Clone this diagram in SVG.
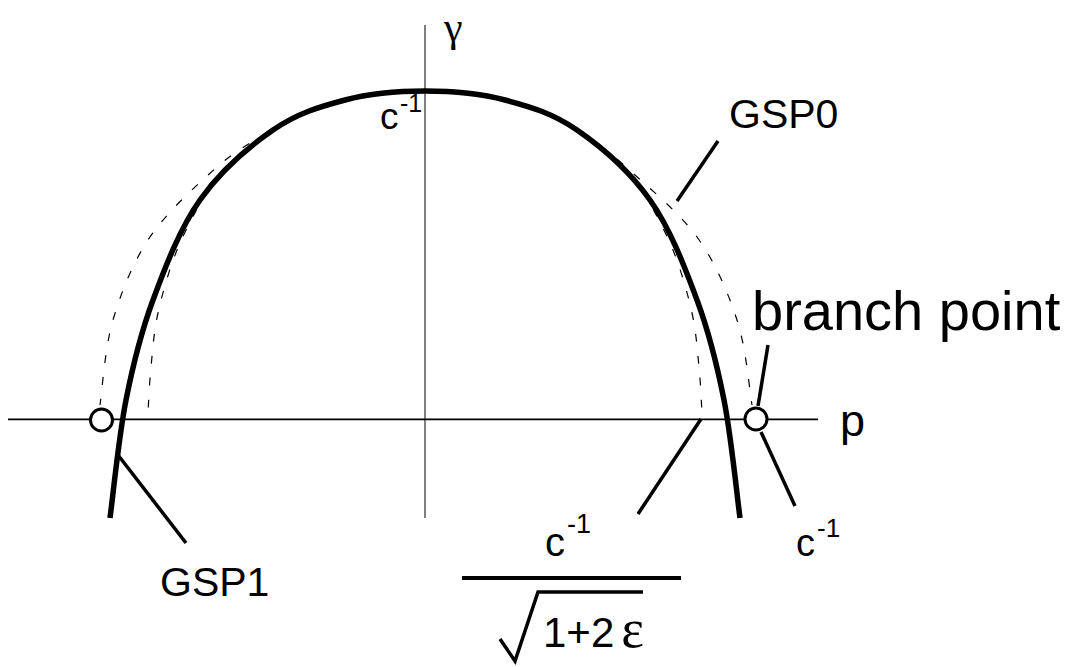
<svg xmlns="http://www.w3.org/2000/svg" width="1069" height="667" viewBox="0 0 1069 667">
<style>
.t{font-family:"Liberation Sans",Arial,sans-serif;fill:#000}
.s{font-family:"Liberation Serif","DejaVu Serif",serif;fill:#000}
.lead{stroke:#000;stroke-width:3.5;fill:none}
.dash{stroke:#000;stroke-width:1.2;fill:none;stroke-dasharray:8 14}
.solid{stroke:#000;stroke-width:5.5;fill:none}
.pt{stroke:#000;stroke-width:3;fill:#fff}
</style>
<rect width="1069" height="667" fill="#fff"/>
<g id="axes">
<line x1="425" y1="25" x2="425" y2="518" stroke="#555" stroke-width="1.5"/>
<line x1="8" y1="419.3" x2="818" y2="419.3" stroke="#000" stroke-width="1.7"/>
<text class="s" x="444" y="41" font-size="42">γ</text>
<text class="t" x="840" y="436" font-size="45">p</text>
</g>
<g id="dashed-curves">
<path class="dash" d="M268,132 C259.5,137.8 236.7,149.5 217,167 C197.3,184.5 167.3,211.5 150,237 C132.7,262.5 121.3,292 113,320 C104.7,348 102.2,390.8 100,405"/>
<path class="dash" d="M583,132 C590.2,137.8 607,149.5 626,167 C645,184.5 678.5,211.5 697,237 C715.5,262.5 727.8,292 737,320 C746.2,348 749.5,390.8 752,405"/>
<path class="dash" d="M207,190 C202,200 185.2,229.5 177,250 C168.8,270.5 162.3,293.5 158,313 C153.7,332.5 152.7,350.3 151,367 C149.3,383.7 148.5,405.3 148,413"/>
<path class="dash" d="M643,190 C648,200 664.8,229.5 673,250 C681.2,270.5 687.7,293.5 692,313 C696.3,332.5 697.3,350.3 699,367 C700.7,383.7 701.5,405.3 702,413"/>
</g>
<g id="main-curve">
<path class="solid" d="M110,518 C112.7,498.3 118.8,436.3 126,400 C133.2,363.7 140.7,333.3 153,300 C165.3,266.7 180,228.3 200,200 C220,171.7 248.8,146.7 273,130 C297.2,113.3 319.7,106.7 345,100 C370.3,93.3 398.3,91 425,91 C451.7,91 479.7,93.3 505,100 C530.3,106.7 552.8,113.3 577,130 C601.2,146.7 630,171.7 650,200 C670,228.3 684.7,266.7 697,300 C709.3,333.3 716.8,363.7 724,400 C731.2,436.3 737.3,498.3 740,518"/>
<text class="t" x="380" y="129" font-size="37">c</text>
<text class="t" x="400" y="112" font-size="25">-1</text>
</g>
<g id="connectors">
<line class="lead" x1="677" y1="201" x2="718" y2="141"/>
<line class="lead" x1="768" y1="345" x2="758" y2="406"/>
<line class="lead" x1="761" y1="432" x2="795" y2="506"/>
<line class="lead" x1="701" y1="419" x2="638" y2="514"/>
<line class="lead" x1="118" y1="455" x2="186" y2="543"/>
</g>
<g id="branch-left">
<circle class="pt" cx="101.5" cy="420" r="11"/>
</g>
<g id="branch-right">
<circle class="pt" cx="756" cy="419" r="11"/>
<text class="t" x="752" y="330" font-size="56">branch point</text>
</g>
<g id="label-gsp0">
<text class="t" x="729" y="128" font-size="41">GSP0</text>
</g>
<g id="label-gsp1">
<text class="t" x="160" y="596" font-size="41">GSP1</text>
</g>
<g id="label-c-right">
<text class="t" x="796" y="556" font-size="38">c</text>
<text class="t" x="817" y="537" font-size="26">-1</text>
</g>
<g id="label-fraction">
<text class="t" x="545" y="556" font-size="40">c</text>
<text class="t" x="567" y="533" font-size="27">-1</text>
<line x1="462" y1="578" x2="681" y2="578" stroke="#000" stroke-width="4"/>
<polyline points="500,639 515,661 538,592 643,592" fill="none" stroke="#000" stroke-width="3.5"/>
<text class="t" x="543" y="647" font-size="42">1+2<tspan class="s" dx="7" font-size="54">ε</tspan></text>
</g>
</svg>
